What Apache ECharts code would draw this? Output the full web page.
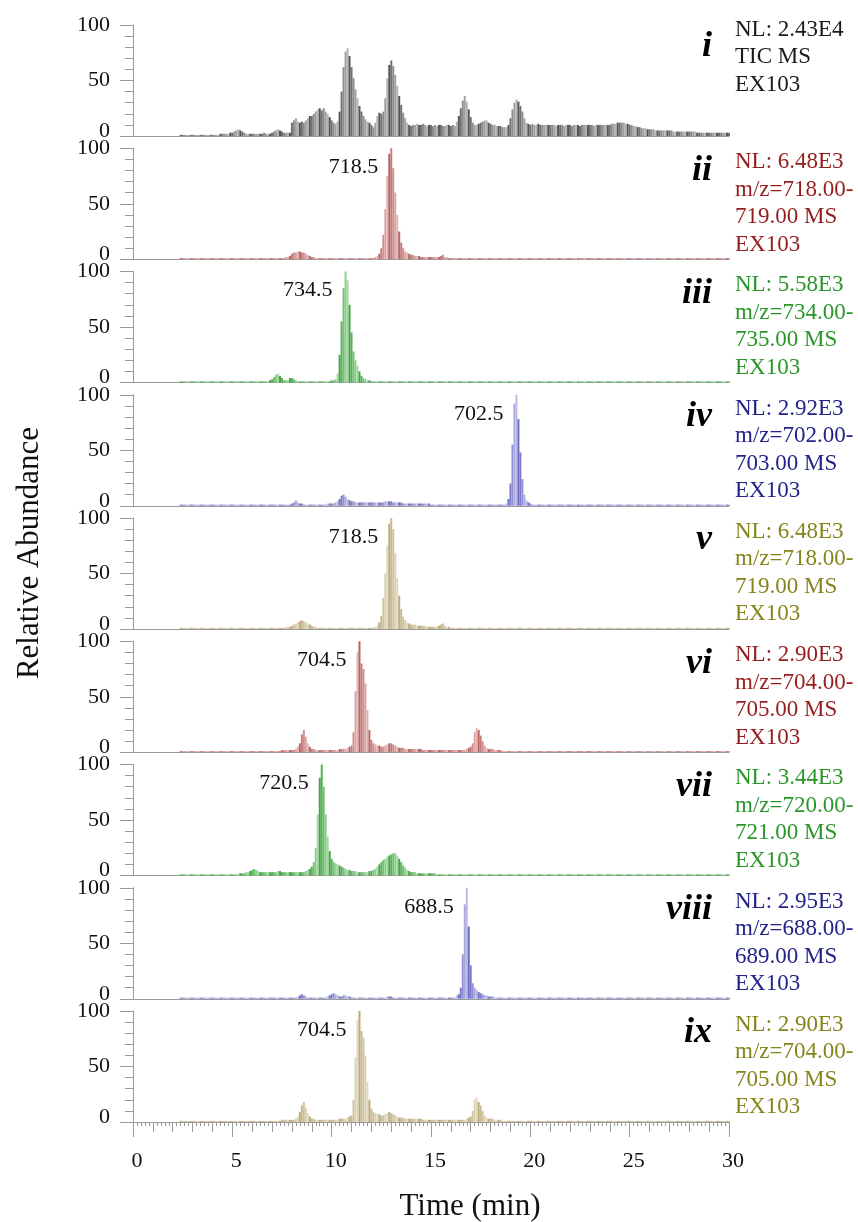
<!DOCTYPE html>
<html><head><meta charset="utf-8">
<script src="https://cdn.jsdelivr.net/npm/echarts@6/dist/echarts.min.js"></script>
<style>html,body{margin:0;padding:0;background:#fff}#c{width:858px;height:1222px}</style>
</head><body><div id="c"></div>
<script>
// time grid of the sampled traces: starts at 2.0 min, one value every 0.1 min up to 30.0 min
const T0 = 2.0, DT = 0.1;
const xTickLabels = [0, 5, 10, 15, 20, 25, 30];
const yTickLabels = [0, 50, 100];
const panelLabels = ['i','ii','iii','iv','v','vi','vii','viii','ix'];
const peakLabels = [null,'718.5','734.5','702.5','718.5','704.5','720.5','688.5','704.5'];
const infoLines = [
  ['NL: 2.43E4','TIC MS','EX103'],
  ['NL: 6.48E3','m/z=718.00-','719.00 MS','EX103'],
  ['NL: 5.58E3','m/z=734.00-','735.00 MS','EX103'],
  ['NL: 2.92E3','m/z=702.00-','703.00 MS','EX103'],
  ['NL: 6.48E3','m/z=718.00-','719.00 MS','EX103'],
  ['NL: 2.90E3','m/z=704.00-','705.00 MS','EX103'],
  ['NL: 3.44E3','m/z=720.00-','721.00 MS','EX103'],
  ['NL: 2.95E3','m/z=688.00-','689.00 MS','EX103'],
  ['NL: 2.90E3','m/z=704.00-','705.00 MS','EX103']
];

// relative abundance (%) per 0.1 min, rows = one minute (2.x, 3.x, ... 29.x, 30.0)
const tic = [
0,0,0,0,1,1,1,1,1,1,
1,1,1,1,1,1,1,1,1,1,
1,1,1,1,2,2,2,2,2,3,
3,4,5,6,5,4,3,2,2,2,
2,2,2,2,2,2,3,2,2,2,
3,4,5,6,5,4,3,3,3,3,
12,14,16,13,12,13,12,14,16,18,
18,20,22,24,25,23,25,22,20,17,
14,12,11,13,22,40,62,76,79,72,
62,52,42,34,27,22,18,15,13,12,
10,8,12,18,21,20,22,34,52,64,
68,63,55,45,36,28,21,16,12,10,
9,10,10,11,10,10,11,10,9,10,
10,9,10,9,10,10,9,9,10,10,
9,10,9,13,18,25,32,36,31,24,
17,12,10,10,11,12,13,14,14,12,
11,10,10,9,9,9,8,8,8,10,
16,24,30,33,31,27,22,16,12,11,
10,11,10,10,11,10,10,10,10,10,
10,10,10,9,10,10,10,9,10,10,
10,9,10,10,10,9,10,10,10,10,
10,10,9,10,10,10,10,10,10,10,
10,11,11,11,12,12,12,12,11,11,
10,10,9,9,8,8,7,7,7,6,
6,6,6,5,5,5,5,5,5,5,
5,5,4,4,4,4,4,4,4,4,
4,4,4,4,3,3,3,3,3,3,
3,3,3,3,3,3,3,3,3,3,
3];
const mz718a = [
0,0,0,0,1,1,1,1,1,1,
1,1,1,1,1,1,1,1,1,1,
1,1,1,1,1,1,1,1,1,1,
1,1,1,1,1,1,1,1,1,1,
1,1,1,1,1,1,1,1,1,1,
1,1,1,1,1,1,1,2,2,3,
5,6,6,7,7,6,6,5,4,3,
2,2,1,1,1,1,1,1,1,1,
1,1,1,1,1,1,1,1,1,1,
1,1,1,1,1,1,1,1,1,1,
1,1,2,3,5,10,22,45,75,95,
100,82,60,40,25,15,10,7,6,5,
4,4,3,3,3,2,2,2,2,2,
2,2,2,2,2,3,4,2,2,1,
1,1,1,1,1,1,1,1,1,1,
1,1,1,1,1,1,1,1,1,1,
1,1,1,1,1,1,1,1,1,1,
1,1,1,1,1,1,1,1,1,1,
1,1,1,1,1,1,1,1,1,1,
1,1,1,1,1,1,1,1,1,1,
1,1,1,1,1,1,1,1,1,1,
1,1,1,1,1,1,1,1,1,1,
1,1,1,1,1,1,1,1,1,1,
1,1,1,1,1,1,1,1,1,1,
1,1,1,1,1,1,1,1,1,1,
1,1,1,1,1,1,1,1,1,1,
1,1,1,1,1,1,1,1,1,1,
1,1,1,1,1,1,1,1,1,1,
1];
const mz734 = [
0,0,0,0,1,1,1,1,1,1,
1,1,1,1,1,1,1,1,1,1,
1,1,1,1,1,1,1,1,1,1,
1,1,1,1,1,1,1,1,1,1,
1,1,1,1,1,1,1,1,1,2,
3,5,7,8,6,4,2,2,2,4,
4,3,2,1,1,1,1,1,1,1,
1,1,1,1,1,1,1,1,1,1,
2,2,3,8,25,55,85,100,92,70,
45,28,20,15,10,6,4,3,2,2,
1,1,1,1,1,1,1,1,1,1,
1,1,1,1,1,1,1,1,1,1,
1,1,1,1,1,1,1,1,1,1,
1,1,1,1,1,1,1,1,1,1,
1,1,1,1,1,1,1,1,1,1,
1,1,1,1,1,1,1,1,1,1,
1,1,1,1,1,1,1,1,1,1,
1,1,1,1,1,1,1,1,1,1,
1,1,1,1,1,1,1,1,1,1,
1,1,1,1,1,1,1,1,1,1,
1,1,1,1,1,1,1,1,1,1,
1,1,1,1,1,1,1,1,1,1,
1,1,1,1,1,1,1,1,1,1,
1,1,1,1,1,1,1,1,1,1,
1,1,1,1,1,1,1,1,1,1,
1,1,1,1,1,1,1,1,1,1,
1,1,1,1,1,1,1,1,1,1,
1,1,1,1,1,1,1,1,1,1,
1];
const mz702 = [
0,0,0,0,1,1,1,1,1,1,
1,1,1,1,1,1,1,1,1,1,
1,1,1,1,1,1,1,1,1,1,
1,1,1,1,1,1,1,1,1,1,
1,1,1,1,1,1,1,1,1,1,
1,1,1,1,1,1,1,1,1,1,
2,3,5,3,2,2,1,1,1,1,
1,1,1,1,1,1,1,1,2,2,
2,2,3,4,6,9,10,8,6,5,
4,4,3,3,3,3,3,3,3,3,
3,3,3,3,3,3,3,4,4,4,
4,3,3,3,3,3,2,2,2,2,
2,2,2,2,2,2,2,2,2,2,
1,1,1,1,1,1,1,1,1,1,
1,1,1,1,1,1,1,1,1,1,
1,1,1,1,1,1,1,1,1,1,
1,1,1,1,1,1,1,1,2,6,
20,55,92,100,78,48,24,10,5,3,
2,1,1,1,1,1,1,1,1,1,
1,1,1,1,1,1,1,1,1,1,
1,1,1,1,1,1,1,1,1,1,
1,1,1,1,1,1,1,1,1,1,
1,1,1,1,1,1,1,1,1,1,
1,1,1,1,1,1,1,1,1,1,
1,1,1,1,1,1,1,1,1,1,
1,1,1,1,1,1,1,1,1,1,
1,1,1,1,1,1,1,1,1,1,
1,1,1,1,1,1,1,1,1,1,
1];
const mz718b = [
0,0,0,0,1,1,1,1,1,1,
1,1,1,1,1,1,1,1,1,1,
1,1,1,1,1,1,1,1,1,1,
1,1,1,1,1,1,1,1,1,1,
1,1,1,1,1,1,1,1,1,1,
1,1,1,1,1,1,1,2,2,2,
3,4,5,6,7,8,7,6,5,4,
3,2,2,1,1,1,1,1,1,1,
1,1,1,1,1,1,1,1,1,1,
1,1,1,1,1,1,1,1,1,1,
1,1,2,3,6,12,28,50,75,95,
100,90,68,46,30,18,11,8,6,5,
4,4,4,3,3,3,3,3,2,2,
2,2,2,2,3,4,5,3,2,2,
1,1,1,1,1,1,1,1,1,1,
1,1,1,1,1,1,1,1,1,1,
1,1,1,1,1,1,1,1,1,1,
1,1,1,1,1,1,1,1,1,1,
1,1,1,1,1,1,1,1,1,1,
1,1,1,1,1,1,1,1,1,1,
1,1,1,1,1,1,1,1,1,1,
1,1,1,1,1,1,1,1,1,1,
1,1,1,1,1,1,1,1,1,1,
1,1,1,1,1,1,1,1,1,1,
1,1,1,1,1,1,1,1,1,1,
1,1,1,1,1,1,1,1,1,1,
1,1,1,1,1,1,1,1,1,1,
1,1,1,1,1,1,1,1,1,1,
1];
const mz704a = [
0,0,0,0,1,1,1,1,1,1,
1,1,1,1,1,1,1,1,1,1,
1,1,1,1,1,1,1,1,1,1,
1,1,1,1,1,1,1,1,1,1,
1,1,1,1,1,1,1,1,1,1,
1,1,1,1,1,2,2,2,2,2,
2,2,3,5,8,16,20,14,8,5,
3,3,2,2,2,2,2,2,2,2,
2,2,2,2,3,3,3,3,4,5,
6,18,55,90,100,80,75,62,38,20,
11,8,7,6,6,5,5,6,7,8,
8,7,6,5,4,4,4,3,3,3,
3,3,3,3,3,3,2,2,2,2,
2,2,2,2,2,2,2,2,2,2,
2,2,2,2,2,2,2,2,3,4,
5,8,18,22,20,15,10,6,4,3,
3,3,2,2,2,2,1,1,1,1,
1,1,1,1,1,1,1,1,1,1,
1,1,1,1,1,1,1,1,1,1,
1,1,1,1,1,1,1,1,1,1,
1,1,1,1,1,1,1,1,1,1,
1,1,1,1,1,1,1,1,1,1,
1,1,1,1,1,1,1,1,1,1,
1,1,1,1,1,1,1,1,1,1,
1,1,1,1,1,1,1,1,1,1,
1,1,1,1,1,1,1,1,1,1,
1,1,1,1,1,1,1,1,1,1,
1,1,1,1,1,1,1,1,1,1,
1];
const mz720 = [
0,0,0,0,1,1,1,1,1,1,
1,1,1,1,1,1,1,1,1,1,
1,1,1,1,1,1,1,1,1,1,
1,1,1,1,2,2,2,3,3,4,
5,6,5,4,3,3,3,3,3,3,
3,3,3,4,4,3,3,3,3,3,
3,3,3,3,3,3,3,4,5,6,
8,12,25,55,88,100,80,55,35,22,
15,12,11,10,9,8,7,6,5,5,
4,4,4,3,3,3,3,3,3,4,
4,5,6,8,10,12,14,15,17,18,
19,20,20,18,15,12,9,7,5,4,
3,3,3,2,2,2,2,2,2,2,
2,2,2,1,1,1,1,1,1,1,
1,1,1,1,1,1,1,1,1,1,
1,1,1,1,1,1,1,1,1,1,
1,1,1,1,1,1,1,1,1,1,
1,1,1,1,1,1,1,1,1,1,
1,1,1,1,1,1,1,1,1,1,
1,1,1,1,1,1,1,1,1,1,
1,1,1,1,1,1,1,1,1,1,
1,1,1,1,1,1,1,1,1,1,
1,1,1,1,1,1,1,1,1,1,
1,1,1,1,1,1,1,1,1,1,
1,1,1,1,1,1,1,1,1,1,
1,1,1,1,1,1,1,1,1,1,
1,1,1,1,1,1,1,1,1,1,
1,1,1,1,1,1,1,1,1,1,
1];
const mz688 = [
0,0,0,0,1,1,1,1,1,1,
1,1,1,1,1,1,1,1,1,1,
1,1,1,1,1,1,1,1,1,1,
1,1,1,1,1,1,1,1,1,1,
1,1,1,1,1,1,1,1,1,1,
1,1,1,1,1,1,1,1,1,1,
1,1,1,2,3,4,3,2,1,1,
1,1,1,1,1,1,1,1,2,3,
4,5,4,3,2,2,3,3,2,2,
1,1,1,1,1,1,1,1,1,1,
1,1,1,1,1,1,1,1,2,2,
2,1,1,1,1,1,1,1,1,1,
1,1,1,1,1,1,1,1,1,1,
1,1,1,1,1,1,1,1,1,1,
1,1,1,3,4,10,40,85,100,65,
30,14,10,8,6,5,4,3,3,2,
2,2,1,1,1,1,1,1,1,1,
1,1,1,1,1,1,1,1,1,1,
1,1,1,1,1,1,1,1,1,1,
1,1,1,1,1,1,1,1,1,1,
1,1,1,1,1,1,1,1,1,1,
1,1,1,1,1,1,1,1,1,1,
1,1,1,1,1,1,1,1,1,1,
1,1,1,1,1,1,1,1,1,1,
1,1,1,1,1,1,1,1,1,1,
1,1,1,1,1,1,1,1,1,1,
1,1,1,1,1,1,1,1,1,1,
1,1,1,1,1,1,1,1,1,1,
1];
const mz704b = [
0,0,0,0,1,1,1,1,1,1,
1,1,1,1,1,1,1,1,1,1,
1,1,1,1,1,1,1,1,1,1,
1,1,1,1,1,1,1,1,1,1,
1,1,1,1,1,1,1,1,1,1,
1,1,1,1,1,2,2,2,2,2,
2,2,3,5,9,15,18,13,8,5,
3,3,2,2,2,2,2,2,2,2,
2,2,2,2,3,3,3,3,4,5,
6,20,58,92,100,82,76,60,36,20,
12,9,8,7,7,6,6,7,8,9,
8,7,6,5,4,4,4,3,3,3,
3,3,3,3,3,3,2,2,2,2,
2,2,2,2,2,2,2,2,2,2,
2,2,2,2,2,2,2,2,3,4,
5,10,20,22,18,15,10,6,4,3,
3,3,2,2,2,2,1,1,1,1,
1,1,1,1,1,1,1,1,1,1,
1,1,1,1,1,1,1,1,1,1,
1,1,1,1,1,1,1,1,1,1,
1,1,1,1,1,1,1,1,1,1,
1,1,1,1,1,1,1,1,1,1,
1,1,1,1,1,1,1,1,1,1,
1,1,1,1,1,1,1,1,1,1,
1,1,1,1,1,1,1,1,1,1,
1,1,1,1,1,1,1,1,1,1,
1,1,1,1,1,1,1,1,1,1,
1,1,1,1,1,1,1,1,1,1,
1];
const traces = [tic, mz718a, mz734, mz702, mz718b, mz704a, mz720, mz688, mz704b];

// styling
const FONT = '"Liberation Serif","Times New Roman",serif';
const barShades = [
  ['#707070','#a0a0a0','#555555','#8c8c8c','#b4b4b4'],
  ['#c67a7a','#dca4a4','#b96464','#d08e8e','#e2b4b4'],
  ['#56b256','#8ccf8c','#45a345','#70c070','#a2d9a2'],
  ['#7c7cc8','#a8a8de','#6a6abf','#9090d2','#babae4'],
  ['#c8b98e','#dbd0b2','#bcac7c','#d0c39e','#e2d9c2'],
  ['#c67a7a','#dca4a4','#b96464','#d08e8e','#e2b4b4'],
  ['#56b256','#8ccf8c','#45a345','#70c070','#a2d9a2'],
  ['#7c7cc8','#a8a8de','#6a6abf','#9090d2','#babae4'],
  ['#c8b98e','#dbd0b2','#bcac7c','#d0c39e','#e2d9c2']
];
const textColors = ['#1a1a1a','#951c1c','#2a962a','#22228a','#85851c','#951c1c','#2a962a','#22228a','#85851c'];

const GL = 133, GR = 858 - 729, TOP0 = 25, STEP = 123.25, GH = 111;
const grids = [], xAxes = [], yAxes = [], series = [], graphics = [];
const axisGrey = '#9a9a9a';
const yLabel = {
  show: true, margin: 23, fontFamily: FONT, fontSize: 22, color: '#111',
  formatter: v => v === 0 ? '{lo|0}' : String(v),
  rich: { lo: { fontFamily: FONT, fontSize: 22, color: '#111', padding: [0, 0, 10, 0] } }
};
traces.forEach((arr, k) => {
  const top = TOP0 + STEP * k;
  grids.push({ left: GL, right: GR, top: top, height: GH });
  const last = k === traces.length - 1;
  xAxes.push({
    gridIndex: k, type: 'value', position: 'bottom', min: xTickLabels[0], max: xTickLabels[xTickLabels.length - 1],
    interval: last ? 1 : 5,
    axisLine: { show: true, onZero: false, lineStyle: { color: axisGrey, width: 1 } },
    axisTick: { show: last, length: 10, lineStyle: { color: axisGrey } },
    minorTick: { show: last, splitNumber: 5, length: 4, lineStyle: { color: axisGrey } },
    axisLabel: { show: false }, splitLine: { show: false }
  });
  yAxes.push({
    gridIndex: k, type: 'value', min: yTickLabels[0], max: yTickLabels[yTickLabels.length - 1], interval: 50,
    axisLine: { show: true, lineStyle: { color: axisGrey } },
    axisTick: { show: true, length: 13, lineStyle: { color: axisGrey } },
    minorTick: { show: true, splitNumber: 5, length: 8, lineStyle: { color: axisGrey } },
    axisLabel: yLabel,
    splitLine: { show: false }
  });
  const data = arr.map((v, i) => [Math.round((T0 + i * DT) * 10) / 10, v]);
  let mi = 0; arr.forEach((v, i) => { if (v > arr[mi]) mi = i; });
  const shades = barShades[k];
  const s = {
    type: 'bar', xAxisIndex: k, yAxisIndex: k, data: data, barWidth: 2,
    itemStyle: { color: p => shades[(p.dataIndex * 3) % shades.length] },
    silent: true
  };
  if (peakLabels[k]) {
    s.markPoint = {
      symbol: 'circle', symbolSize: 0, silent: true,
      data: [{ coord: data[mi], value: peakLabels[k] }],
      label: { show: true, position: 'inside', align: 'right', verticalAlign: 'middle',
        offset: [-13, 19], formatter: peakLabels[k], fontFamily: FONT, fontSize: 22, color: '#111' }
    };
  }
  series.push(s);
  graphics.push({
    type: 'text', x: 712, y: top + 22,
    style: { text: panelLabels[k], fontFamily: FONT, fontSize: 36, fontWeight: 'bold', fontStyle: 'italic',
      fill: '#000', textAlign: 'right', textVerticalAlign: 'middle' }
  });
  graphics.push({
    type: 'text', x: 735, y: top + (k === 0 ? -9 : 0),
    style: { text: infoLines[k].join('\n'), fontFamily: FONT, fontSize: 23, lineHeight: 27.5,
      fill: textColors[k], textAlign: 'left', textVerticalAlign: 'top' }
  });
});
// major ticks + labels on the bottom time axis
xAxes.push({
  gridIndex: traces.length - 1, type: 'value', position: 'bottom', min: xTickLabels[0], max: xTickLabels[xTickLabels.length - 1], interval: 5,
  axisLine: { show: false, onZero: false },
  axisTick: { show: true, length: 15, lineStyle: { color: axisGrey } },
  axisLabel: { show: true, margin: 28, fontFamily: FONT, fontSize: 22, color: '#111', padding: [0, 0, 0, 8] },
  splitLine: { show: false }
});
graphics.push({
  type: 'text', x: 470, y: 1207,
  style: { text: 'Time (min)', fontFamily: FONT, fontSize: 31, fill: '#111', textAlign: 'center', textVerticalAlign: 'middle' }
});
graphics.push({
  type: 'text', x: 30, y: 553, rotation: Math.PI / 2,
  style: { text: 'Relative Abundance', fontFamily: FONT, fontSize: 31, fill: '#111', textAlign: 'center', textVerticalAlign: 'middle' }
});

const chart = echarts.init(document.getElementById('c'), null, { renderer: 'canvas' });
chart.setOption({
  animation: false, backgroundColor: '#fff',
  grid: grids, xAxis: xAxes, yAxis: yAxes, series: series, graphic: graphics
});
</script></body></html>
